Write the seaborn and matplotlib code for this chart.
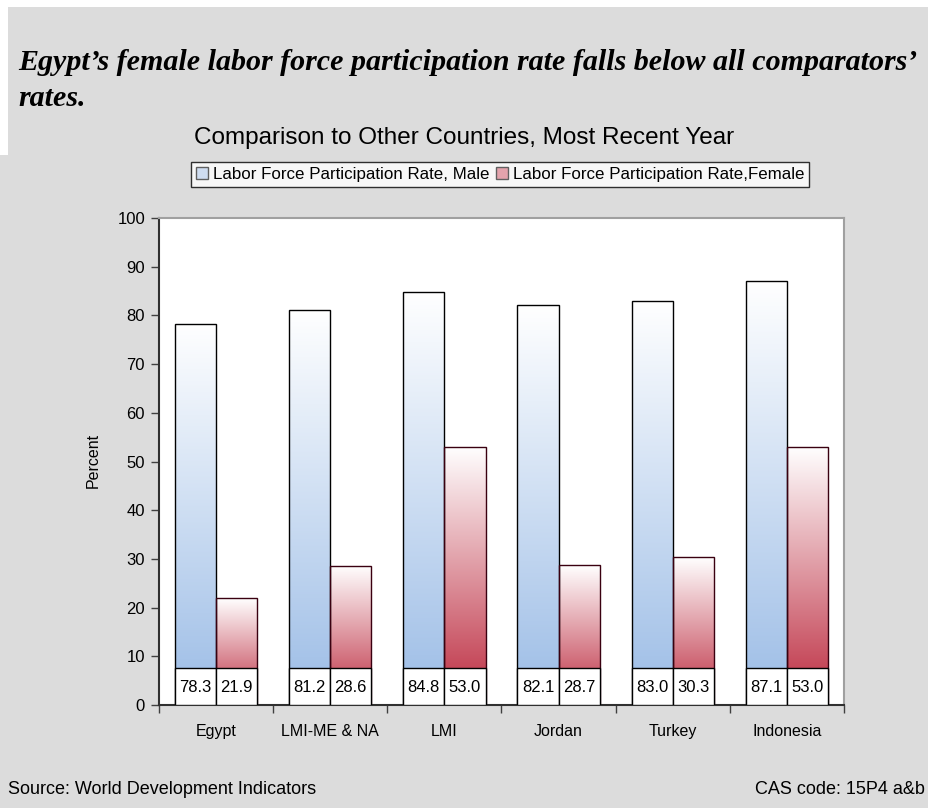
import numpy as np
import pandas as pd
import matplotlib
matplotlib.use('Agg')
import matplotlib.pyplot as plt
import seaborn as sns
from matplotlib.colors import LinearSegmentedColormap
from matplotlib.patches import Rectangle, Patch

# data
countries = ["Egypt", "LMI-ME & NA", "LMI", "Jordan", "Turkey", "Indonesia"]
male = [78.3, 81.2, 84.8, 82.1, 83.0, 87.1]
female = [21.9, 28.6, 53.0, 28.7, 30.3, 53.0]
series = ["Labor Force Participation Rate, Male", "Labor Force Participation Rate,Female"]

df = pd.DataFrame({
    "country": countries * 2,
    "rate": male + female,
    "series": [series[0]] * len(countries) + [series[1]] * len(countries),
})

sns.set_style('white')
plt.rcParams['font.family'] = ['Liberation Sans', 'DejaVu Sans']
plt.rcParams['text.color'] = 'black'
plt.rcParams['xtick.color'] = 'black'
plt.rcParams['ytick.color'] = 'black'
plt.rcParams['axes.labelcolor'] = 'black'

bg = '#DCDCDC'
fig = plt.figure(figsize=(9.29, 8.08), dpi=100, facecolor=bg)
# white strips at the page edge (cropped document)
fig.patches.append(Rectangle((0, 1 - 7 / 808), 1, 7 / 808, transform=fig.transFigure,
                             facecolor='white', edgecolor='none', zorder=0))
fig.patches.append(Rectangle((0, 1 - 155 / 808), 8 / 929, 155 / 808, transform=fig.transFigure,
                             facecolor='white', edgecolor='none', zorder=0))

ax = fig.add_axes([159 / 929, 103 / 808, 685 / 929, 487 / 808])
ax.set_facecolor('white')

sns.barplot(data=df, x='country', y='rate', hue='series', width=0.72, gap=0,
            palette=['#A6C4E8', '#C8485A'], edgecolor='black', linewidth=1,
            legend=False, ax=ax, zorder=2)

cmaps = [LinearSegmentedColormap.from_list('m', ['#FFFFFF', '#9BBCE6']),
         LinearSegmentedColormap.from_list('f', ['#FFFFFF', '#BC2A3E'])]
edges = ['black', '#3A0010']
grad = np.linspace(0, 1, 256).reshape(-1, 1)

for k, cont in enumerate(ax.containers):
    for bar in cont:
        x, w, h = bar.get_x(), bar.get_width(), bar.get_height()
        bar.set_facecolor('none')
        bar.set_edgecolor(edges[k])
        im = ax.imshow(grad, extent=[x, x + w, 0, h], aspect='auto', cmap=cmaps[k],
                       zorder=1.5, interpolation='bicubic')
        im.set_clip_path(bar)
        # data table cell under each bar
        ax.add_patch(Rectangle((x, 0), w, 7.5, facecolor='white', edgecolor='black',
                               linewidth=1, zorder=3))
        ax.text(x + w / 2, 3.6, f"{h:.1f}", ha='center', va='center', fontsize=12, zorder=4)

ax.set_xlim(-0.5, 5.5)
ax.set_ylim(0, 100)
ax.set_yticks(range(0, 101, 10))
ax.set_xticks(np.arange(-0.5, 6, 1))
ax.set_xticklabels([])
ax.set_xticks(range(6), minor=True)
ax.set_xticklabels(countries, minor=True)
ax.tick_params(axis='x', which='major', length=6, width=1, direction='out', color='#404040')
ax.tick_params(axis='x', which='minor', length=0, pad=14, labelsize=11.5)
ax.tick_params(axis='y', length=6, width=1, direction='out', pad=4, labelsize=12, color='#404040')
ax.tick_params(bottom=True, left=True)
ax.set_xlabel('')
ax.set_ylabel('')

for s in ['top', 'right']:
    ax.spines[s].set_color('#A0A0A0')
    ax.spines[s].set_linewidth(1.5)
for s in ['left', 'bottom']:
    ax.spines[s].set_color('#303030')
    ax.spines[s].set_linewidth(1.5)

fig.text(93 / 929, 1 - 460 / 808, 'Percent', rotation=90, ha='center', va='center', fontsize=11.5)

handles = [Patch(facecolor='#CFDDF1', edgecolor='#606060'),
           Patch(facecolor='#E3A3AC', edgecolor='#606060')]
leg = fig.legend(handles, series, loc='center', bbox_to_anchor=(500 / 929, 1 - 174.5 / 808),
                 ncol=2, frameon=True, fancybox=False, edgecolor='black', facecolor='white',
                 fontsize=12.2, handlelength=0.7, handleheight=0.7, handletextpad=0.3,
                 columnspacing=0.4, borderpad=0.3, borderaxespad=0)
leg.get_frame().set_linewidth(1)

fig.text(0.5, 1 - 138 / 808, 'Comparison to Other Countries, Most Recent Year',
         ha='center', va='center', fontsize=17.5)

serif = ['Liberation Serif', 'DejaVu Serif']
fig.text(18 / 929, 1 - 63 / 808, 'Egypt\u2019s female labor force participation rate falls below all comparators\u2019',
         ha='left', va='center', fontsize=21.6, family=serif, style='italic', weight='bold')
fig.text(18 / 929, 1 - 99 / 808, 'rates.', ha='left', va='center', fontsize=21.6,
         family=serif, style='italic', weight='bold')

fig.text(8 / 929, 1 - 790 / 808, 'Source: World Development Indicators', ha='left', va='center', fontsize=13)
fig.text(925 / 929, 1 - 790 / 808, 'CAS code: 15P4 a&b', ha='right', va='center', fontsize=13)

fig.savefig('out.png', dpi=100, facecolor=bg)
